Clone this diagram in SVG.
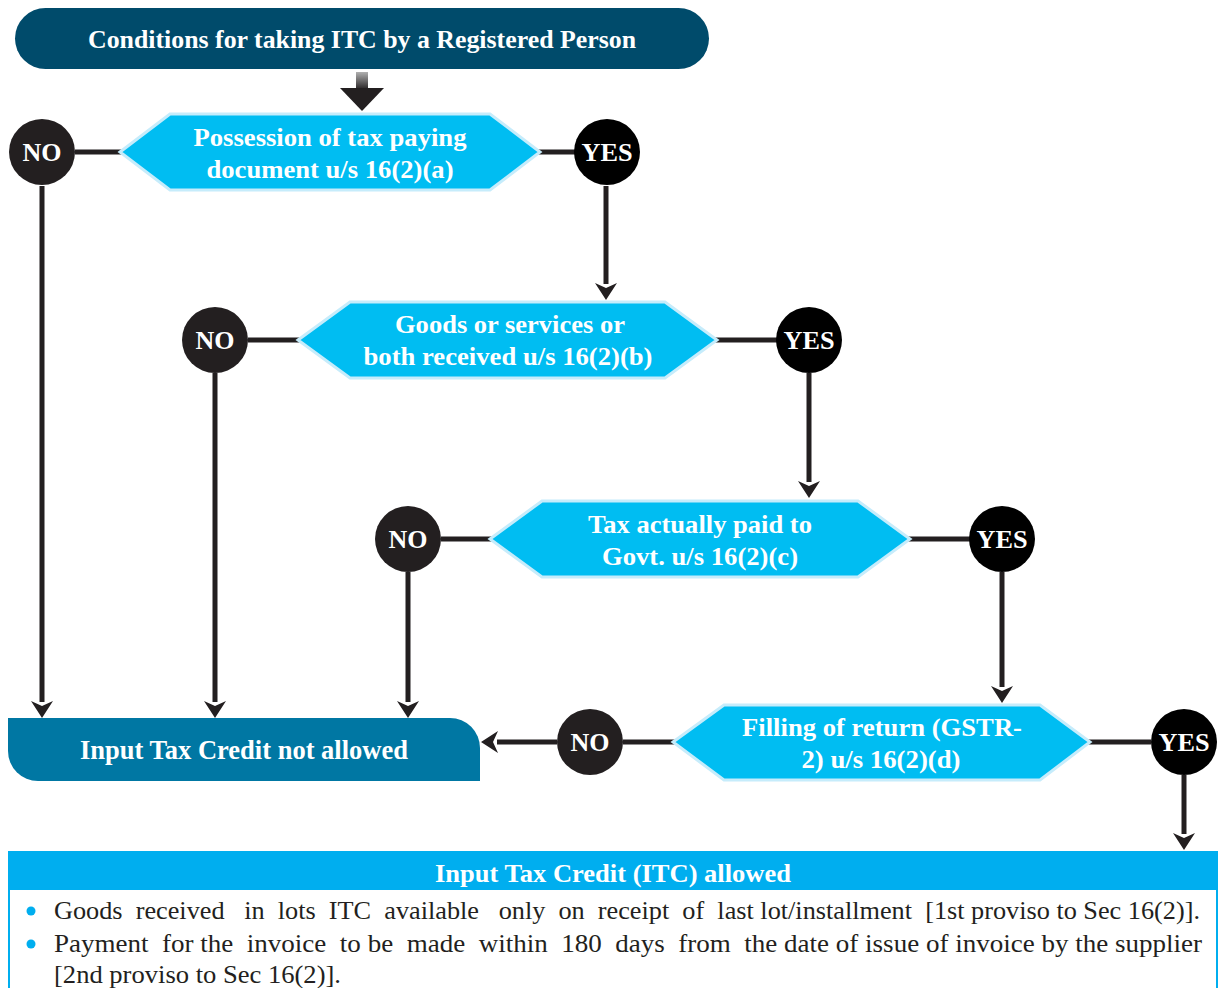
<svg xmlns="http://www.w3.org/2000/svg" width="1223" height="988" viewBox="0 0 1223 988" font-family="Liberation Serif">
<style>
.t{font-weight:bold;fill:#fff;text-anchor:middle;}
.hex{fill:#00bdf2;stroke:#c6ecfb;stroke-width:3;}
.no{fill:#231f20;}
.yes{fill:#000;}
.ln{stroke:#231f20;stroke-width:5;fill:none;}
.b{font-size:26px;fill:#231f20;white-space:pre;}
</style>
<defs>
<marker id="ah" viewBox="-2 -12 20 24" refX="0" refY="0" markerWidth="20" markerHeight="24" markerUnits="userSpaceOnUse" orient="auto">
<path d="M16,0 L-1,-11 L4,0 L-1,11 Z" fill="#231f20"/>
</marker>
<linearGradient id="sg" x1="0" y1="0" x2="0" y2="1">
<stop offset="0" stop-color="#b0b0b0"/>
<stop offset="1" stop-color="#231f20"/>
</linearGradient>
</defs>

<g id="title">
<rect x="15" y="8" width="694" height="61" rx="30.5" fill="#004b6b"/>
<text class="t" x="362" y="48" font-family="Liberation Serif" font-size="26" textLength="548" lengthAdjust="spacingAndGlyphs">Conditions for taking ITC by a Registered Person</text>
</g>

<g id="connectors">
<rect x="356" y="72" width="12" height="18" fill="url(#sg)"/>
<polygon points="340,88 384,88 362,111" fill="#231f20"/>
<line class="ln" x1="75" y1="152" x2="122" y2="152"/>
<line class="ln" x1="538" y1="152" x2="575" y2="152"/>
<line class="ln" x1="42" y1="186" x2="42" y2="702" marker-end="url(#ah)"/>
<line class="ln" x1="606" y1="186" x2="606" y2="284" marker-end="url(#ah)"/>
<line class="ln" x1="248" y1="340" x2="300" y2="340"/>
<line class="ln" x1="715" y1="340" x2="777" y2="340"/>
<line class="ln" x1="215" y1="373" x2="215" y2="702" marker-end="url(#ah)"/>
<line class="ln" x1="809" y1="373" x2="809" y2="482" marker-end="url(#ah)"/>
<line class="ln" x1="441" y1="539" x2="492" y2="539"/>
<line class="ln" x1="908" y1="539" x2="970" y2="539"/>
<line class="ln" x1="408" y1="572" x2="408" y2="702" marker-end="url(#ah)"/>
<line class="ln" x1="1002" y1="572" x2="1002" y2="687" marker-end="url(#ah)"/>
<line class="ln" x1="623" y1="742" x2="675" y2="742"/>
<line class="ln" x1="557" y1="742" x2="497" y2="742" marker-end="url(#ah)"/>
<line class="ln" x1="1088" y1="742" x2="1151" y2="742"/>
<line class="ln" x1="1184" y1="775" x2="1184" y2="834" marker-end="url(#ah)"/>
</g>

<g id="cond1" font-family="Liberation Serif">
<polygon class="hex" points="120,152 170,114 490,114 540,152 490,190 170,190"/>
<text class="t" x="330" y="146" font-size="26" textLength="273" lengthAdjust="spacingAndGlyphs">Possession of tax paying</text>
<text class="t" x="330" y="178" font-size="26" textLength="247" lengthAdjust="spacingAndGlyphs">document u/s 16(2)(a)</text>
</g>
<g id="no1" font-family="Liberation Serif"><circle class="no" cx="42" cy="152" r="33"/><text class="t" x="42" y="161" font-size="25" textLength="39" lengthAdjust="spacingAndGlyphs">NO</text></g>
<g id="yes1" font-family="Liberation Serif"><circle class="yes" cx="607" cy="152" r="33"/><text class="t" x="607" y="161" font-size="25" textLength="51" lengthAdjust="spacingAndGlyphs">YES</text></g>

<g id="cond2" font-family="Liberation Serif">
<polygon class="hex" points="298,340 350,302 665,302 717,340 665,378 350,378"/>
<text class="t" x="510" y="333" font-size="26" textLength="230" lengthAdjust="spacingAndGlyphs">Goods or services or</text>
<text class="t" x="508" y="365" font-size="26" textLength="289" lengthAdjust="spacingAndGlyphs">both received u/s 16(2)(b)</text>
</g>
<g id="no2" font-family="Liberation Serif"><circle class="no" cx="215" cy="340" r="33"/><text class="t" x="215" y="349" font-size="25" textLength="39" lengthAdjust="spacingAndGlyphs">NO</text></g>
<g id="yes2" font-family="Liberation Serif"><circle class="yes" cx="809" cy="340" r="33"/><text class="t" x="809" y="349" font-size="25" textLength="51" lengthAdjust="spacingAndGlyphs">YES</text></g>

<g id="cond3" font-family="Liberation Serif">
<polygon class="hex" points="490,539 542,501 858,501 910,539 858,577 542,577"/>
<text class="t" x="700" y="533" font-size="26" textLength="224" lengthAdjust="spacingAndGlyphs">Tax actually paid to</text>
<text class="t" x="700" y="565" font-size="26" textLength="196" lengthAdjust="spacingAndGlyphs">Govt. u/s 16(2)(c)</text>
</g>
<g id="no3" font-family="Liberation Serif"><circle class="no" cx="408" cy="539" r="33"/><text class="t" x="408" y="548" font-size="25" textLength="39" lengthAdjust="spacingAndGlyphs">NO</text></g>
<g id="yes3" font-family="Liberation Serif"><circle class="yes" cx="1002" cy="539" r="33"/><text class="t" x="1002" y="548" font-size="25" textLength="51" lengthAdjust="spacingAndGlyphs">YES</text></g>

<g id="cond4" font-family="Liberation Serif">
<polygon class="hex" points="673,742 724,705 1040,705 1090,742 1040,780 724,780"/>
<text class="t" x="882" y="736" font-size="26" textLength="280" lengthAdjust="spacingAndGlyphs">Filling of return (GSTR-</text>
<text class="t" x="881" y="768" font-size="26" textLength="159" lengthAdjust="spacingAndGlyphs">2) u/s 16(2)(d)</text>
</g>
<g id="no4" font-family="Liberation Serif"><circle class="no" cx="590" cy="742" r="33"/><text class="t" x="590" y="751" font-size="25" textLength="39" lengthAdjust="spacingAndGlyphs">NO</text></g>
<g id="yes4" font-family="Liberation Serif"><circle class="yes" cx="1184" cy="742" r="33"/><text class="t" x="1184" y="751" font-size="25" textLength="51" lengthAdjust="spacingAndGlyphs">YES</text></g>

<g id="notallowed" font-family="Liberation Serif">
<path d="M8,718 H450 A30,30 0 0 1 480,748 V781 H38 A30,30 0 0 1 8,751 Z" fill="#0077a3"/>
<text class="t" x="244" y="759" font-size="27" textLength="328" lengthAdjust="spacingAndGlyphs">Input Tax Credit not allowed</text>
</g>

<g id="allowed" font-family="Liberation Serif">
<rect x="9" y="852" width="1208" height="140" fill="#fff" stroke="#00aeef" stroke-width="2"/>
<rect x="9" y="852" width="1208" height="38" fill="#00aeef"/>
<text class="t" x="613" y="882" font-size="26" textLength="356" lengthAdjust="spacingAndGlyphs">Input Tax Credit (ITC) allowed</text>
<circle cx="31" cy="911" r="4.5" fill="#00aeef"/>
<circle cx="31" cy="944" r="4.5" fill="#00aeef"/>
<text class="b" x="54" y="919" textLength="1146" lengthAdjust="spacingAndGlyphs">Goods  received   in  lots  ITC  available   only  on  receipt  of  last lot/installment  [1st proviso to Sec 16(2)].</text>
<text class="b" x="54" y="952" textLength="1148" lengthAdjust="spacingAndGlyphs">Payment  for the  invoice  to be  made  within  180  days  from  the date of issue of invoice by the supplier</text>
<text class="b" x="54" y="983" textLength="287" lengthAdjust="spacingAndGlyphs">[2nd proviso to Sec 16(2)].</text>
</g>
</svg>
